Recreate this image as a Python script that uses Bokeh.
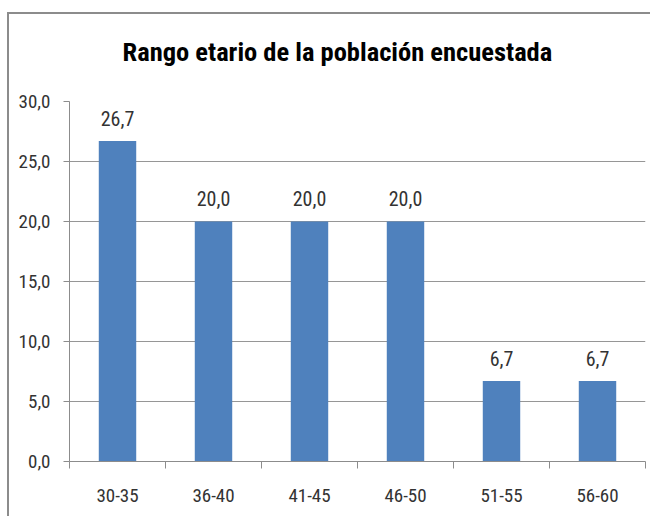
from bokeh.plotting import figure
from bokeh.models import ColumnDataSource, Range1d, FixedTicker, LabelSet, Title
from bokeh.core.properties import value
from bokeh.embed import file_html
from bokeh.resources import INLINE

categories = ["30-35", "36-40", "41-45", "46-50", "51-55", "56-60"]
values = [26.7, 20.0, 20.0, 20.0, 6.7, 6.7]
y_ticks = [0, 5, 10, 15, 20, 25, 30]
y_tick_labels = ["0,0", "5,0", "10,0", "15,0", "20,0", "25,0", "30,0"]
title_text = "Rango etario de la población encuestada"

FONT = "Liberation Sans Narrow, Arial Narrow, Roboto Condensed, Roboto, sans-serif"

n = len(categories)
xc = [i + 0.5 for i in range(n)]
src = ColumnDataSource(dict(
    x=xc, top=values, cat=categories,
    lab=[f"{v:.1f}".replace(".", ",") for v in values],
))

p = figure(
    width=643, height=504,
    x_range=Range1d(0, n), y_range=Range1d(0, 30),
    output_backend="svg", toolbar_location=None,
    min_border_left=60, min_border_right=7, min_border_top=87, min_border_bottom=57,
    margin=(12, 0, 0, 7),
    styles={"border-top": "2px solid #8c8c8c", "border-left": "2px solid #8c8c8c"},
)
p.outline_line_color = None
p.background_fill_color = "white"
p.border_fill_color = "white"

# main title (outermost "above" item)
p.title.text = title_text
p.title.align = "left"
p.title.offset = 53
p.title.standoff = 0
p.title.vertical_align = "bottom"
p.title.text_font = FONT
p.title.text_font_size = "26.5px"
p.title.text_font_style = "bold"
p.title.text_color = "#000000"

# invisible spacer between the title and the plot area
p.add_layout(Title(text="\u200b", text_font_size="1px", standoff=32,
                   text_color="white"), "above")

p.vbar(x="x", top="top", width=0.39, bottom=0, source=src,
       fill_color="#4f81bd", line_color=None)

labels = LabelSet(x="x", y="top", text="lab", source=src, y_offset=23,
                  text_align="center", text_baseline="middle",
                  text_font=value(FONT), text_font_size=value("20px"),
                  text_color="#333333")
p.add_layout(labels)

# y axis
p.yaxis.ticker = FixedTicker(ticks=y_ticks)
p.yaxis.major_label_overrides = {t: l for t, l in zip(y_ticks, y_tick_labels)}
p.yaxis.major_label_text_font = FONT
p.yaxis.major_label_text_font_size = "19px"
p.yaxis.major_label_text_color = "#333333"
p.yaxis.major_tick_in = 0
p.yaxis.major_tick_out = 6
p.yaxis.minor_tick_line_color = None
p.yaxis.axis_line_color = "#8c8c8c"
p.yaxis.major_tick_line_color = "#8c8c8c"
p.yaxis.major_label_standoff = 13

# x axis: labels at centers, tick marks at boundaries
p.xaxis.ticker = FixedTicker(ticks=xc, minor_ticks=list(range(n + 1)))
p.xaxis.major_label_overrides = {x: c for x, c in zip(xc, categories)}
p.xaxis.major_label_text_font = FONT
p.xaxis.major_label_text_font_size = "19px"
p.xaxis.major_label_text_color = "#333333"
p.xaxis.major_tick_in = 0
p.xaxis.major_tick_out = 0
p.xaxis.minor_tick_in = 0
p.xaxis.minor_tick_out = 7
p.xaxis.minor_tick_line_color = "#8c8c8c"
p.xaxis.axis_line_color = "#8c8c8c"
p.xaxis.major_label_standoff = 20

p.xgrid.grid_line_color = None
p.ygrid.grid_line_color = "#969696"
p.ygrid.grid_line_width = 1

open("out.html", "w").write(file_html(p, INLINE))
